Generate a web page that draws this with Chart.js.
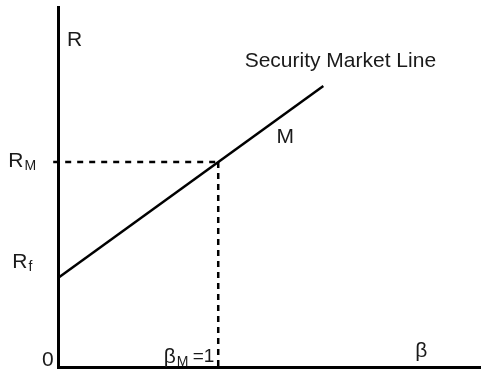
<!DOCTYPE html>
<html>
<head>
<meta charset="utf-8">
<script src="https://cdn.jsdelivr.net/npm/chart.js@4.4.1/dist/chart.umd.min.js"></script>
<style>
  html, body { margin: 0; padding: 0; background: #fff; }
  #wrap { width: 481px; height: 370px; position: relative; }
</style>
</head>
<body>
<div id="wrap"><canvas id="c"></canvas></div>
<script>
  /* ── data: beta on x, expected return R on y (R_M = 10) ── */
  const riskFree = 4.34;
  const marketReturn = 10;
  const marketBeta = 1;
  const smlBetas = [0, 1.656];
  const smlReturns = [4.34, 13.71];
  const betaMax = 2.64;
  const returnMax = 17.56;

  /* text labels: [main, subscript, after, beta, R] */
  const labelTexts = ['R', 'Security Market Line', 'M', 'R', 'R', '0', '\u03B2', '\u03B2'];
  const labelSubs = ['', '', '', 'M', 'f', '', 'M', ''];
  const labelAfter = ['', '', '', '', '', '', ' =1', ''];
  const labelBetas = [0.056, 1.165, 1.363, -0.31, -0.285, -0.1, 0.66, 2.23];
  const labelReturns = [15.95, 14.9, 11.2, 10.05, 5.1, 0.35, 0.5, 0.75];

  const FONT = '"Liberation Sans", Arial, sans-serif';

  const textPlugin = {
    id: 'texts',
    afterDraw: function (chart) {
      const ctx = chart.ctx;
      const xs = chart.scales.x, ys = chart.scales.y;
      ctx.save();
      ctx.fillStyle = '#1a1a1a';
      ctx.textBaseline = 'middle';
      ctx.textAlign = 'left';
      labelTexts.forEach(function (t, i) {
        let x = xs.getPixelForValue(labelBetas[i]);
        const y = ys.getPixelForValue(labelReturns[i]);
        ctx.font = '21px ' + FONT;
        ctx.fillText(t, x, y);
        x += ctx.measureText(t).width;
        if (labelSubs[i]) {
          ctx.font = '14px ' + FONT;
          ctx.fillText(labelSubs[i], x + 1, y + 5);
          x += ctx.measureText(labelSubs[i]).width;
        }
        if (labelAfter[i]) {
          ctx.font = '19px ' + FONT;
          ctx.fillText(labelAfter[i], x, y);
        }
      });
      ctx.restore();
    }
  };

  new Chart(document.getElementById('c'), {
    type: 'scatter',
    data: {
      datasets: [
        {
          label: 'SML',
          data: smlBetas.map(function (b, i) { return { x: b, y: smlReturns[i] }; }),
          showLine: true, borderColor: '#000', borderWidth: 2.5, pointRadius: 0, clip: false
        },
        {
          label: 'RM',
          data: [{ x: -0.03, y: marketReturn }, { x: marketBeta, y: marketReturn }],
          showLine: true, borderColor: '#000', borderWidth: 2.5, borderDash: [6, 6], pointRadius: 0, clip: false
        },
        {
          label: 'BetaM',
          data: [{ x: marketBeta, y: marketReturn }, { x: marketBeta, y: 0 }],
          showLine: true, borderColor: '#000', borderWidth: 2.5, borderDash: [6, 5], pointRadius: 0, clip: false
        }
      ]
    },
    options: {
      responsive: true,
      maintainAspectRatio: false,
      animation: false,
      layout: { padding: { left: 58, top: 7, right: 0, bottom: 3 } },
      plugins: { legend: { display: false }, tooltip: { enabled: false } },
      scales: {
        x: {
          type: 'linear', min: 0, max: betaMax,
          grid: { display: false },
          ticks: { display: false },
          border: { display: true, color: '#000', width: 3 },
          afterFit: function (s) { s.height = 0; }
        },
        y: {
          type: 'linear', min: 0, max: returnMax,
          grid: { display: false },
          ticks: { display: false },
          border: { display: true, color: '#000', width: 3 },
          afterFit: function (s) { s.width = 0; }
        }
      }
    },
    plugins: [textPlugin]
  });
</script>
</body>
</html>
